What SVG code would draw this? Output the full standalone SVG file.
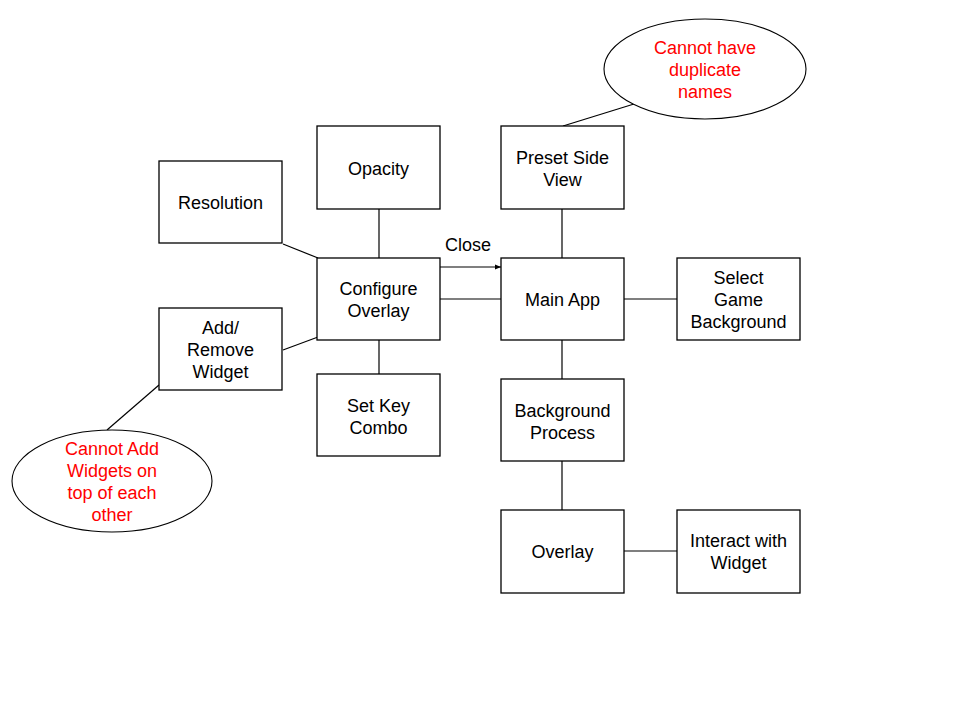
<svg xmlns="http://www.w3.org/2000/svg" width="960" height="720" viewBox="0 0 960 720">
<style>
.box{fill:#fff;stroke:#000;stroke-width:1.3}
.ell{fill:#fff;stroke:#000;stroke-width:1.1}
.t{font-family:"Liberation Sans",Arial,sans-serif;font-size:18px;fill:#000;text-anchor:middle}
.r{fill:#ff0000}
.c line{stroke:#000;stroke-width:1.2}
</style>
<defs>
<marker id="ah" viewBox="0 0 10 10" refX="10" refY="5" markerWidth="6" markerHeight="6" orient="auto" markerUnits="userSpaceOnUse"><path d="M0,1 L10,5 L0,9 Z" fill="#000"/></marker>
</defs>
<rect width="960" height="720" fill="#fff"/>
<g id="connectors" class="c">
<line x1="283" y1="244" x2="318" y2="258"/>
<line x1="283" y1="350" x2="318" y2="337"/>
<line x1="379" y1="209" x2="379" y2="258"/>
<line x1="379" y1="340" x2="379" y2="374"/>
<line x1="440" y1="267" x2="501" y2="267" marker-end="url(#ah)"/>
<line x1="440" y1="299" x2="501" y2="299"/>
<line x1="562" y1="209" x2="562" y2="258"/>
<line x1="624" y1="299" x2="677" y2="299"/>
<line x1="562" y1="340" x2="562" y2="379"/>
<line x1="562" y1="461" x2="562" y2="510"/>
<line x1="624" y1="551" x2="677" y2="551"/>
<line x1="563" y1="126" x2="634" y2="104"/>
<line x1="159" y1="385" x2="107" y2="430"/>
<text class="t" x="468" y="251">Close</text>
</g>
<g id="resolution"><rect class="box" x="159" y="161" width="123" height="82"/><text class="t" x="220.5" y="209">Resolution</text></g>
<g id="opacity"><rect class="box" x="317" y="126" width="123" height="83"/><text class="t" x="378.5" y="175">Opacity</text></g>
<g id="preset"><rect class="box" x="501" y="126" width="123" height="83"/><text class="t" x="562.5" y="164">Preset Side</text><text class="t" x="562.5" y="186">View</text></g>
<g id="configure"><rect class="box" x="317" y="258" width="123" height="82"/><text class="t" x="378.5" y="295">Configure</text><text class="t" x="378.5" y="317">Overlay</text></g>
<g id="mainapp"><rect class="box" x="501" y="258" width="123" height="82"/><text class="t" x="562.5" y="306">Main App</text></g>
<g id="selectbg"><rect class="box" x="677" y="258" width="123" height="82"/><text class="t" x="738.5" y="284">Select</text><text class="t" x="738.5" y="306">Game</text><text class="t" x="738.5" y="328">Background</text></g>
<g id="addremove"><rect class="box" x="159" y="308" width="123" height="82"/><text class="t" x="220.5" y="334">Add/</text><text class="t" x="220.5" y="356">Remove</text><text class="t" x="220.5" y="378">Widget</text></g>
<g id="setkey"><rect class="box" x="317" y="374" width="123" height="82"/><text class="t" x="378.5" y="412">Set Key</text><text class="t" x="378.5" y="434">Combo</text></g>
<g id="bgprocess"><rect class="box" x="501" y="379" width="123" height="82"/><text class="t" x="562.5" y="417">Background</text><text class="t" x="562.5" y="439">Process</text></g>
<g id="overlay"><rect class="box" x="501" y="510" width="123" height="83"/><text class="t" x="562.5" y="558">Overlay</text></g>
<g id="interact"><rect class="box" x="677" y="510" width="123" height="83"/><text class="t" x="738.5" y="547">Interact with</text><text class="t" x="738.5" y="569">Widget</text></g>
<g id="note-duplicate"><ellipse class="ell" cx="705" cy="69" rx="101" ry="50"/><text class="t r" x="705" y="54">Cannot have</text><text class="t r" x="705" y="76">duplicate</text><text class="t r" x="705" y="98">names</text></g>
<g id="note-widgets"><ellipse class="ell" cx="112" cy="481" rx="100" ry="51"/><text class="t r" x="112" y="455">Cannot Add</text><text class="t r" x="112" y="477">Widgets on</text><text class="t r" x="112" y="499">top of each</text><text class="t r" x="112" y="521">other</text></g>
</svg>
